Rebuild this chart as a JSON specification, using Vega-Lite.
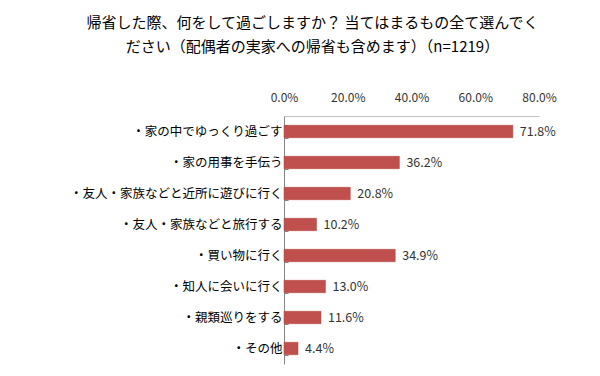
{
  "$schema": "https://vega.github.io/schema/vega-lite/v6.json",
  "width": 255,
  "height": 248,
  "autosize": {"type": "none"},
  "padding": {"left": 284, "top": 116, "right": 61, "bottom": 12},
  "background": "white",
  "title": {
    "text": ["帰省した際、何をして過ごしますか？ 当てはまるもの全て選んでく", "ださい（配偶者の実家への帰省も含めます）（n=1219）"],
    "font": "Noto Sans CJK JP",
    "fontSize": 15,
    "fontWeight": "normal",
    "color": "#000000",
    "anchor": "middle",
    "frame": "group",
    "dx": -99,
    "lineHeight": 24,
    "offset": 36
  },
  "config": {"view": {"stroke": null}},
  "data": {
    "values": [
      {"item": "・家の中でゆっくり過ごす", "value": 0.718},
      {"item": "・家の用事を手伝う", "value": 0.362},
      {"item": "・友人・家族などと近所に遊びに行く", "value": 0.208},
      {"item": "・友人・家族などと旅行する", "value": 0.102},
      {"item": "・買い物に行く", "value": 0.349},
      {"item": "・知人に会いに行く", "value": 0.13},
      {"item": "・親類巡りをする", "value": 0.116},
      {"item": "・その他", "value": 0.044}
    ]
  },
  "encoding": {
    "y": {
      "field": "item",
      "type": "nominal",
      "sort": null,
      "scale": {"paddingInner": 0.6, "paddingOuter": 0.3},
      "axis": {
        "title": null,
        "orient": "left",
        "labelFont": "Noto Sans CJK JP",
        "labelFontSize": 12.5,
        "labelColor": "#000000",
        "labelPadding": 6,
        "tickBand": "extent",
        "tickSize": -4,
        "tickColor": "#868686",
        "domainColor": "#868686",
        "labelLimit": 300
      }
    },
    "x": {
      "field": "value",
      "type": "quantitative",
      "scale": {"domain": [0, 0.8]},
      "axis": {
        "title": null,
        "orient": "top",
        "format": ".1%",
        "values": [0, 0.2, 0.4, 0.6, 0.8],
        "grid": false,
        "ticks": false,
        "labelFlush": false,
        "labelOverlap": false,
        "labelPadding": 12,
        "labelFont": "Noto Sans CJK JP",
        "labelFontSize": 12,
        "labelColor": "#333333",
        "domainColor": "#bfbfbf"
      }
    }
  },
  "layer": [
    {
      "mark": {"type": "bar", "color": "#c0504d", "stroke": "#b0403d", "strokeWidth": 0.5}
    },
    {
      "mark": {"type": "text", "align": "left", "baseline": "middle", "dx": 7, "font": "Noto Sans CJK JP", "fontSize": 12.5, "color": "#333333"},
      "encoding": {"text": {"field": "value", "type": "quantitative", "format": ".1%"}}
    }
  ]
}
